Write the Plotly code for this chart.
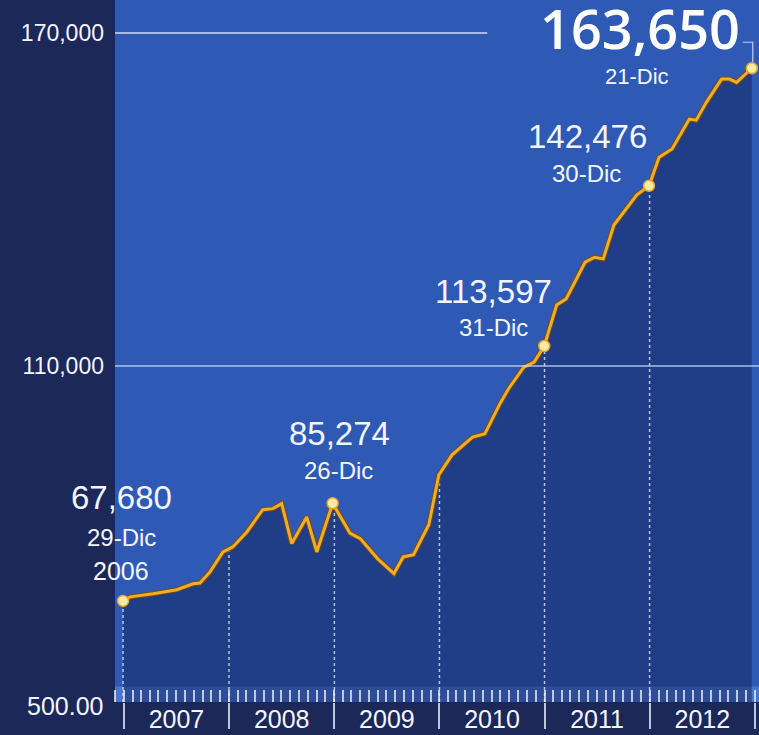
import numpy as np
import pandas as pd
import plotly.graph_objects as go

# ---------------- data ----------------
dates = [
    "2006-12-29", "2007-01-22", "2007-04-12", "2007-07-04", "2007-08-29", "2007-09-22",
    "2007-10-27", "2007-12-11", "2008-01-14", "2008-03-03", "2008-04-27", "2008-06-01",
    "2008-07-02", "2008-08-06", "2008-09-27", "2008-11-01", "2008-12-26", "2009-02-24",
    "2009-04-01", "2009-05-31", "2009-07-27", "2009-08-28", "2009-10-03", "2009-11-25",
    "2009-12-30", "2010-02-14", "2010-04-26", "2010-06-08", "2010-07-31", "2010-08-29",
    "2010-10-21", "2010-11-26", "2010-12-31", "2011-02-12", "2011-03-17", "2011-05-22",
    "2011-06-24", "2011-07-24", "2011-08-30", "2011-10-02", "2011-11-17", "2011-12-30",
    "2012-02-03", "2012-03-19", "2012-05-18", "2012-06-11", "2012-07-16", "2012-09-07",
    "2012-10-05", "2012-10-29", "2012-12-21",
]
values = [
    67680, 68400, 68950, 69700, 70750, 70900,
    72900, 76500, 77400, 80100, 84100, 84300,
    85200, 78000, 82800, 76500, 85274, 79900,
    78900, 75300, 72600, 75600, 76000, 81400,
    90400, 94000, 97200, 97800, 103300, 105900,
    109800, 110700, 113597, 121000, 122100, 128700,
    129600, 129300, 135400, 137700, 140800, 142476,
    147600, 149100, 154500, 154300, 157500, 161700,
    161700, 161100, 163650,
]

label_dates = ["2006-12-29", "2008-12-26", "2010-12-31", "2011-12-30", "2012-12-21"]
label_values = [67680, 85274, 113597, 142476, 163650]
label_day_text = ["29-Dic", "26-Dic", "31-Dic", "30-Dic", "21-Dic"]
first_year_text = "2006"

y_tick_vals = [170000, 110000]
y_tick_text = ["170,000", "110,000"]
y_bottom_text = "500.00"

year_boundaries = ["2008-01-01", "2009-01-01", "2010-01-01", "2011-01-01", "2012-01-01"]

# ---------------- styling ----------------
Y_MIN, Y_MAX = 49460, 175946
X_MIN, X_MAX = "2006-12-01", "2013-01-15"
PAPER = "#1c2858"
PLOT = "#2e5ab6"
LINE = "#eeae28"
WHITE = "#f4f6ff"
REG = "Liberation Sans, Arial, sans-serif"

fig = go.Figure()

# drop lines (dotted) from the curve down to the bottom
ts = pd.to_datetime(dates).astype("int64").to_numpy()
drop_dates = [label_dates[0]] + year_boundaries
dx, dy = [], []
for d in drop_dates:
    v = float(np.interp(pd.Timestamp(d).value, ts, values))
    dx += [d, d, None]
    dy += [Y_MIN, v, None]

# area under curve
fig.add_trace(go.Scatter(
    x=dates, y=values, mode="lines", line=dict(width=0),
    fill="tozeroy", fillcolor="rgba(14,22,72,0.42)", hoverinfo="skip", showlegend=False,
))
fig.add_trace(go.Scatter(
    x=dx, y=dy, mode="lines",
    line=dict(color="rgba(235,240,255,0.75)", width=1.5, dash="dot"),
    hoverinfo="skip", showlegend=False,
))
# main line
fig.add_trace(go.Scatter(
    x=dates, y=values, mode="lines",
    line=dict(color="#7a4a10", width=5), hoverinfo="skip", showlegend=False,
))
fig.add_trace(go.Scatter(
    x=dates, y=values, mode="lines",
    line=dict(color=LINE, width=3), showlegend=False,
))
# highlighted points
fig.add_trace(go.Scatter(
    x=label_dates, y=label_values, mode="markers",
    marker=dict(size=11, color="#fbeaa6", line=dict(color="#e2a52a", width=1.5)),
    showlegend=False,
))

# ---------------- annotations ----------------
num_shift = [(-2, 103), (7, 70), (-51, 55), (-62, 49), (-112, 40)]
day_shift = [(-2, 63), (6, 33), (-51, 19), (-63, 12), (-115, -8)]
annotations = []
for i, (d, v) in enumerate(zip(label_dates, label_values)):
    big = i == len(label_dates) - 1
    annotations.append(dict(
        x=d, y=v, xref="x", yref="y", text=f"{v:,}", showarrow=False,
        xshift=num_shift[i][0], yshift=num_shift[i][1],
        font=dict(family="Open Sans, Liberation Sans, sans-serif", size=54, color="white", weight=600)
        if big else dict(family=REG, size=33, color=WHITE),
    ))
    annotations.append(dict(
        x=d, y=v, xref="x", yref="y", text=label_day_text[i], showarrow=False,
        xshift=day_shift[i][0], yshift=day_shift[i][1],
        font=dict(family=REG, size=22 if big else 24, color=WHITE),
    ))
annotations.append(dict(
    x=label_dates[0], y=label_values[0], xref="x", yref="y", text=first_year_text,
    showarrow=False, xshift=-2, yshift=30, font=dict(family=REG, size=25, color=WHITE),
))
annotations.append(dict(
    x=0, y=Y_MIN, xref="paper", yref="y", text=y_bottom_text, showarrow=False,
    xanchor="right", xshift=-10, yshift=-4, font=dict(family=REG, size=25, color=WHITE),
))

# ---------------- shapes ----------------
shapes = [
    dict(type="line", xref="x domain", yref="y", x0=0, x1=0.578,
         y0=y_tick_vals[0], y1=y_tick_vals[0], line=dict(color="rgba(235,240,255,0.85)", width=1.5)),
    dict(type="line", xref="x domain", yref="y", x0=0, x1=1,
         y0=y_tick_vals[1], y1=y_tick_vals[1], line=dict(color="rgba(200,225,255,0.8)", width=1.5)),
    dict(type="rect", xref="x domain", yref="y domain", x0=0, x1=1, y0=0, y1=0.022,
         fillcolor="rgba(120,170,255,0.35)", line=dict(width=0), layer="below"),
    # leader line from the big label to the last point
    dict(type="path", xref="x", yref="y", xsizemode="pixel", ysizemode="pixel",
         xanchor=label_dates[-1], yanchor=label_values[-1],
         path="M -9,26 L 1,26 L 1,6", line=dict(color="rgba(230,235,255,0.8)", width=1.2)),
]

fig.update_layout(
    width=759, height=735,
    margin=dict(l=115, r=0, t=0, b=33, pad=0),
    paper_bgcolor=PAPER, plot_bgcolor=PLOT,
    showlegend=False,
    annotations=annotations, shapes=shapes,
    xaxis=dict(
        type="date", range=[X_MIN, X_MAX], automargin=False,
        showgrid=False, zeroline=False, showline=False,
        dtick="M12", tick0="2007-01-01", tickformat="%Y", ticklabelmode="period",
        ticks="outside", ticklen=26, tickwidth=1.5, tickcolor="rgba(230,235,255,0.8)",
        ticklabelstandoff=-31,
        tickfont=dict(family=REG, size=25, color=WHITE),
        minor=dict(dtick="M1", tick0="2007-01-01", ticks="inside", ticklen=12,
                   tickwidth=1.5, tickcolor="rgba(240,245,255,0.75)", showgrid=False),
    ),
    yaxis=dict(
        range=[Y_MIN, Y_MAX], automargin=False,
        showgrid=False, zeroline=False, showline=False,
        tickvals=y_tick_vals, ticktext=y_tick_text, ticks="",
        ticklabelstandoff=10,
        tickfont=dict(family=REG, size=23, color=WHITE),
    ),
)

fig.write_html(
    "out.html",
    config={"displayModeBar": False},
    post_script="document.body.style.margin='0';document.body.style.background='" + PAPER + "';",
)
